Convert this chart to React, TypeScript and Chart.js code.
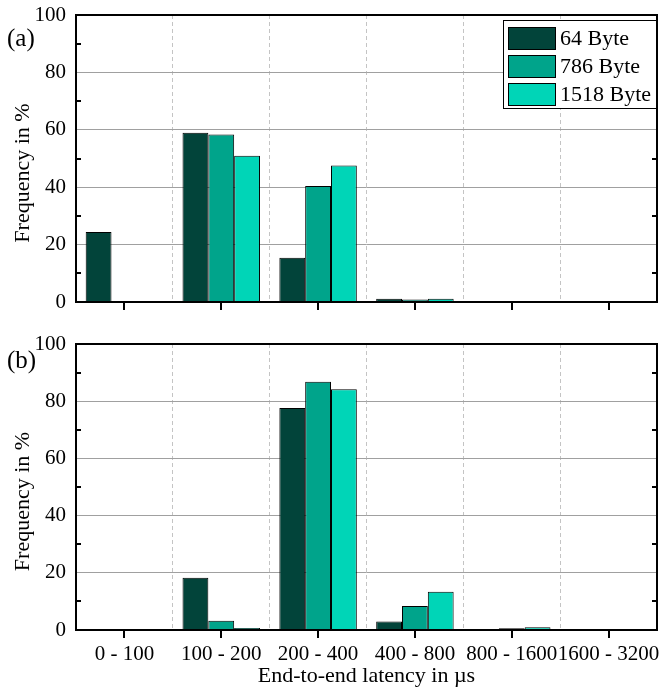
import React, { useEffect, useRef } from 'react';
import { Chart, registerables } from 'chart.js';

Chart.register(...registerables);

const categories = ['0 - 100', '100 - 200', '200 - 400', '400 - 800', '800 - 1600', '1600 - 3200'];
const seriesLabels = ['64 Byte', '786 Byte', '1518 Byte'];
const seriesColors = ['#02443a', '#00a48b', '#00d5b7'];

const panelA64 = [24.4, 59.0, 15.4, 1.1, 0, 0];
const panelA786 = [0, 58.4, 40.4, 0.9, 0.2, 0];
const panelA1518 = [0, 51.0, 47.6, 1.1, 0, 0];

const panelB64 = [0, 18.3, 77.6, 3.0, 0.3, 0];
const panelB786 = [0, 3.2, 86.8, 8.4, 0.6, 0];
const panelB1518 = [0, 0.7, 84.2, 13.4, 1.0, 0];

const yMinorTicks = [10, 30, 50, 70, 90];
const yTitle = 'Frequency in %';
const xTitle = 'End-to-end latency in µs';

const FONT = '"Liberation Serif", "Times New Roman", serif';

const decorPlugin = {
  id: 'decor',
  afterDraw(chart: any, _args: any, opts: any) {
    const { ctx, chartArea: a, scales } = chart;
    const xs = scales.x;
    const ys = scales.y;
    ctx.save();
    ctx.strokeStyle = '#000';
    ctx.lineWidth = 2;
    ctx.beginPath();
    for (const v of yMinorTicks) {
      const py = Math.round(ys.getPixelForValue(v));
      ctx.moveTo(a.left, py);
      ctx.lineTo(a.left + 5, py);
      ctx.moveTo(a.right, py);
      ctx.lineTo(a.right - 5, py);
    }
    for (let i = 0; i < categories.length; i++) {
      const px = Math.round(xs.getPixelForValue(i));
      ctx.moveTo(px, a.bottom);
      ctx.lineTo(px, a.bottom + 8);
    }
    ctx.stroke();
    ctx.strokeRect(a.left, a.top, a.right - a.left, a.bottom - a.top);

    ctx.fillStyle = '#000';
    ctx.font = `25px ${FONT}`;
    ctx.textAlign = 'left';
    ctx.textBaseline = 'middle';
    ctx.fillText(opts.tag, 7, opts.tagY);

    ctx.save();
    ctx.translate(23, (a.top + a.bottom) / 2 + 14.5);
    ctx.rotate(-Math.PI / 2);
    ctx.font = `22px ${FONT}`;
    ctx.textAlign = 'center';
    ctx.textBaseline = 'middle';
    ctx.fillText(yTitle, 0, 0);
    ctx.restore();

    if (opts.legend) {
      const lx = 503;
      const ly = a.top + 5;
      const lw = a.right - 1 - lx;
      const lh = 88;
      ctx.fillStyle = '#fff';
      ctx.fillRect(lx, ly, lw, lh);
      ctx.lineWidth = 1;
      ctx.strokeStyle = '#000';
      ctx.strokeRect(lx + 0.5, ly + 0.5, lw, lh);
      ctx.font = `22px ${FONT}`;
      ctx.textAlign = 'left';
      ctx.textBaseline = 'middle';
      chart.data.datasets.forEach((ds: any, i: number) => {
        const ry = ly + 7 + i * 28;
        ctx.fillStyle = ds.backgroundColor;
        ctx.fillRect(lx + 5, ry, 48, 23);
        ctx.strokeRect(lx + 5.5, ry + 0.5, 47, 22);
        ctx.fillStyle = '#000';
        ctx.fillText(ds.label, lx + 57, ry + 12);
      });
    }
    ctx.restore();
  },
};

function Panel(props: {
  values: number[][];
  tag: string;
  showXLabels: boolean;
  legend: boolean;
  height: number;
  padTop: number;
  xAxisHeight: number;
  tagY: number;
}) {
  const ref = useRef<HTMLCanvasElement | null>(null);
  useEffect(() => {
    if (!ref.current) return;
    const chart = new Chart(ref.current, {
      type: 'bar',
      data: {
        labels: categories,
        datasets: props.values.map((vals, i) => ({
          label: seriesLabels[i],
          data: vals,
          backgroundColor: seriesColors[i],
          borderColor: '#000',
          borderWidth: 1,
          categoryPercentage: 0.8,
          barPercentage: 1.0,
        })),
      },
      options: {
        animation: false,
        responsive: false,
        devicePixelRatio: 1,
        layout: { padding: { top: props.padTop, right: 7, left: 0, bottom: 0 } },
        plugins: {
          legend: { display: false },
          tooltip: { enabled: false },
          decor: { tag: props.tag, tagY: props.tagY, legend: props.legend },
        } as any,
        scales: {
          x: {
            type: 'category',
            offset: true,
            grid: {
              offset: true,
              drawTicks: false,
              color: '#c4c4c4',
              lineWidth: 1,
            },
            border: { display: false, dash: [4, 3] },
            ticks: {
              display: props.showXLabels,
              autoSkip: false,
              maxRotation: 0,
              minRotation: 0,
              padding: 12,
              color: '#000',
              font: { family: FONT, size: 21 },
            },
            title: {
              display: props.showXLabels,
              text: xTitle,
              color: '#000',
              font: { family: FONT, size: 22 },
              padding: { top: 0, bottom: 0 },
            },
            afterFit: (scale: any) => {
              scale.height = props.xAxisHeight;
              scale.paddingLeft = 0;
              scale.paddingRight = 0;
            },
          },
          y: {
            min: 0,
            max: 100,
            ticks: {
              stepSize: 20,
              padding: 10,
              color: '#000',
              font: { family: FONT, size: 21 },
            },
            grid: {
              drawTicks: false,
              lineWidth: 1,
              color: (c: any) =>
                c.tick && (c.tick.value === 0 || c.tick.value === 100) ? 'rgba(0,0,0,0)' : '#a0a0a0',
            },
            border: { display: false },
            afterFit: (scale: any) => {
              scale.width = 76;
              scale.paddingTop = 0;
              scale.paddingBottom = 0;
            },
          },
        },
      },
      plugins: [decorPlugin],
    } as any);
    return () => chart.destroy();
  }, []);
  return <canvas ref={ref} width={664} height={props.height} style={{ display: 'block' }} />;
}

export default function App() {
  return (
    <div style={{ position: 'fixed', left: 0, top: 0, width: 664, height: 689, background: '#fff' }}>
      <Panel
        values={[panelA64, panelA786, panelA1518]}
        tag="(a)"
        showXLabels={false}
        legend={true}
        height={322}
        padTop={15}
        xAxisHeight={20}
        tagY={39}
      />
      <Panel
        values={[panelB64, panelB786, panelB1518]}
        tag="(b)"
        showXLabels={true}
        legend={false}
        height={367}
        padTop={22}
        xAxisHeight={59}
        tagY={39}
      />
    </div>
  );
}
